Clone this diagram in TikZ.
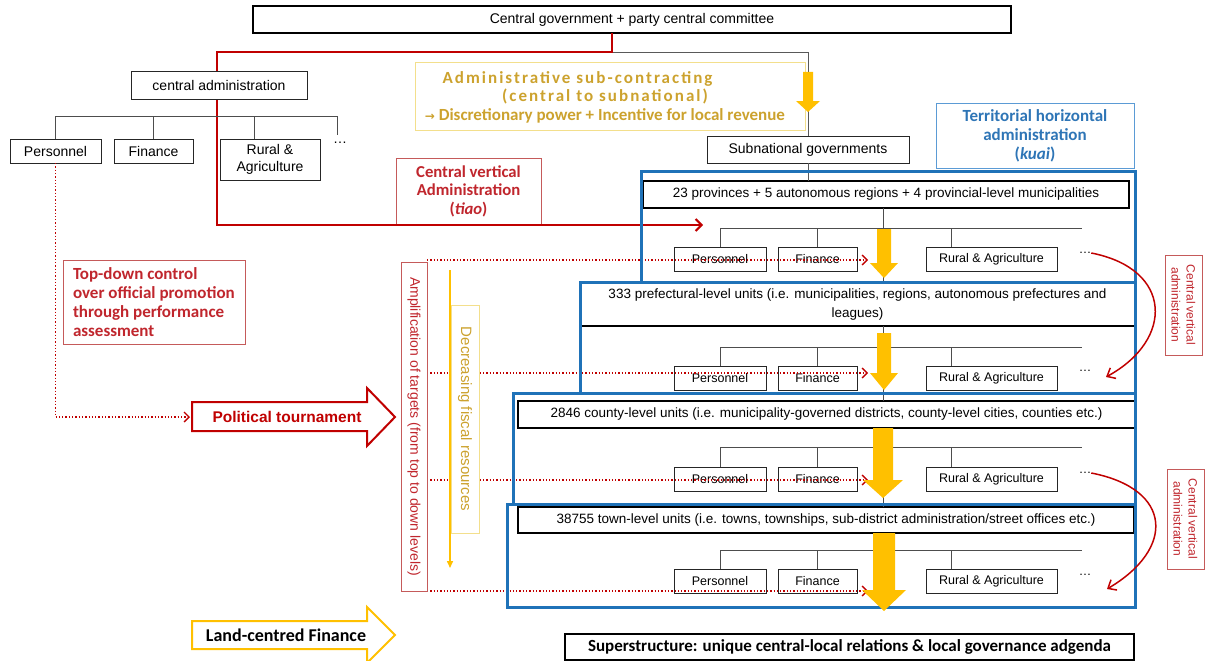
\documentclass[tikz,border=0pt]{standalone}
\usepackage{fontspec}
\setmainfont{Liberation Sans}
\newfontfamily\lblfont{Carlito}
\newfontfamily\symfont{DejaVu Sans}
\usetikzlibrary{arrows.meta,calc}

\definecolor{lred}{HTML}{C00000}
\definecolor{boxred}{HTML}{C55A5A}
\definecolor{txtred}{HTML}{C0262D}
\definecolor{gold}{HTML}{FFC000}
\definecolor{goldtxt}{HTML}{CCA22E}
\definecolor{paleyel}{HTML}{F3DF8C}
\definecolor{frameblue}{HTML}{1F72B8}
\definecolor{kuaiblue}{HTML}{5B9BD5}
\definecolor{kuaitxt}{HTML}{2E75B6}
\definecolor{treegray}{HTML}{4D4D4D}

\newcommand\fsz[2]{\fontsize{#1}{#2}\selectfont}
\newcommand\spaced[1]{{\addfontfeature{LetterSpace=12}#1}}
% filled downward block arrow: x, shaft top, head start, tip, shaft half width, head half width
\newcommand\fatarrow[6]{\fill[gold] ({#1-#5},#2) -- ({#1+#5},#2) -- ({#1+#5},#3) -- ({#1+#6},#3) -- (#1,#4) -- ({#1-#6},#3) -- ({#1-#5},#3) -- cycle;}

\begin{document}
\begin{tikzpicture}[x=1pt,y=-1pt,
  every node/.style={inner sep=0pt, outer sep=0pt},
  plain/.style={draw=black!85, line width=1pt, fill=white, font=\fsz{14}{16.5}},
  heavy/.style={draw=black, line width=2pt, fill=white, font=\fsz{13.5}{19}},
  unit/.style={draw=black!85, line width=0.9pt, fill=white, minimum height=24, font=\fsz{12.5}{14}},
  tree/.style={draw=treegray, line width=0.9pt},
  frame/.style={draw=frameblue, line width=3pt},
  redline/.style={draw=lred, line width=2pt, -{Straight Barb[length=6pt,width=12pt]}},
  reddots/.style={draw=lred, line width=1.3pt, dotted, -{Straight Barb[length=5pt,width=10pt]}},
  redcurve/.style={draw=lred, line width=1.5pt, -{Straight Barb[length=7pt,width=12pt]}},
  redbox/.style={draw=boxred, line width=0.9pt, fill=white, text=txtred},
]
\useasboundingbox (0,0) rectangle (1205,661);

% ---------- top: central level ----------
\node[heavy, minimum width=758, minimum height=27, font=\fsz{14}{16}] (gov) at (632,19.5) {Central government + party central committee};
\node[redbox, minimum width=145, minimum height=66, align=center, font=\lblfont\bfseries\fsz{16.7}{18.5}] (tiao) at (468.5,191) {Central vertical\\Administration\\(\textit{tiao})};
\node[plain, minimum width=202, minimum height=27] (sub) at (808,149.5) {Subnational governments};

\coordinate (rc) at (612,52);
\coordinate (lc) at (217,52);
\coordinate (lb) at (217,225);
\coordinate (redtip) at (703,225);
\coordinate (gc) at (808,52);
\draw[tree, draw=gray!70!black] (rc) -- (gc) -- (sub.north);
\draw[redline] (gov.south -| rc) -- (rc) -- (lc) -- (lb) -- (redtip);

% central administration tree
\coordinate (th) at (57,116);
\coordinate (te) at (337,116);
\node[plain, minimum width=176, minimum height=27] (cadm) at (219,85.5) {central administration};
\node[plain, minimum width=91, minimum height=24] (p0) at (55.5,151) {Personnel};
\node[plain, minimum width=79, minimum height=24] (f0) at (153.5,151) {Finance};
\node[plain, minimum width=100, minimum height=41, align=center, font=\fsz{14}{17}] (r0) at (270,159.5) {Rural \&\\Agriculture};
\node[font=\fsz{14}{16}] (d0) at (340,143) {…};
\draw[tree] (p0.north) |- (te) -- ++(0,19);
\draw[tree] (f0.north) -- (f0.north |- th);
\draw[tree] ($(r0.north west)+(34,0)$) -- ($(r0.north west)+(34,-23)$);

% administrative sub-contracting
\node[draw=paleyel, line width=1pt, minimum width=390, minimum height=67] (subc) at (610,96.5) {};
\node[align=center, text=goldtxt, font=\lblfont\bfseries\fsz{17}{18.5}] (subct) at (605,97)
  {\spaced{Administrative sub-contracting}\hspace*{55pt}\\\spaced{(central to subnational)}\hspace*{42pt}\\{\symfont\fsz{12}{12}→} Discretionary power + Incentive for local revenue};
\fatarrow{808}{72}{101}{112}{5}{12}

\node[draw=kuaiblue, line width=0.9pt, minimum width=198, minimum height=65, align=center, text=kuaitxt, font=\lblfont\bfseries\fsz{17}{19}] (kuai) at (1035,135.5) {Territorial horizontal\\administration\\(\textit{kuai})};

% ---------- subnational levels ----------
\node[heavy, minimum width=486, minimum height=27] (t1) at (886,194.5) {23 provinces + 5 autonomous regions + 4 provincial-level municipalities};
\node[heavy, minimum width=555, minimum height=43, align=center] (t2) at (857.5,304.5) {333 prefectural-level units (i.e. municipalities, regions, autonomous prefectures and\\leagues)};
\node[heavy, minimum width=617, minimum height=27] (t3) at (826.5,414.5) {2846 county-level units (i.e. municipality-governed districts, county-level cities, counties etc.)};
\node[heavy, minimum width=616, minimum height=26] (t4) at (826,520) {38755 town-level units (i.e. towns, townships, sub-district administration/street offices etc.)};

\coordinate (cv) at (883,0);
\coordinate (l4bot) at (883,607);
\draw[tree, draw=gray!70!black] (sub.south) -- (sub.south |- t1.north);
\draw[tree] (t1.south -| cv) -- (t2.north -| cv);
\draw[tree] (t2.south -| cv) -- (t3.north -| cv);
\draw[tree] (t3.south -| cv) -- (t4.north -| cv);
\draw[tree] (t4.south -| cv) -- (l4bot);

\foreach \i/\h/\b/\d in {1/228/259/253, 2/347/378/371, 3/447/479/473, 4/550/581/575} {
  \coordinate (hs\i) at (721,\h);
  \coordinate (he\i) at (1082,\h);
  \coordinate (rv\i) at (951,\h);
  \node[unit, minimum width=92] (per\i) at (720,\b) {Personnel};
  \node[unit, minimum width=79] (fin\i) at (817.5,\b) {Finance};
  \node[unit, minimum width=131] (rur\i) at (991.5,\b) {Rural \& Agriculture};
  \node[font=\fsz{12.5}{14}] (dot\i) at (1085,\d) {…};
  \draw[tree] (per\i.north) |- (he\i);
  \draw[tree] (fin\i.north) -- (fin\i.north |- hs\i);
  \draw[tree] (rv\i) -- (rv\i |- rur\i.north);
}

% targets handed down to each level
\foreach \i/\y in {1/260, 2/373, 3/480, 4/591} {
  \coordinate (ds\i) at (427,\y);
  \coordinate (de\i) at (868,\y);
  \draw[reddots] (ds\i) -- (de\i);
}

\node[redbox, fill=none, rotate=-90, minimum width=329, minimum height=26, font=\fsz{14}{16}] (amp) at (414,426.5) {Amplification of targets (from top to down levels)};
\node[draw=paleyel, line width=0.9pt, fill=white, rotate=-90, minimum width=228, minimum height=28, text=goldtxt, font=\fsz{15}{17}] (dec) at (465,419) {Decreasing fiscal resources};
\coordinate (gtop) at (450,270);
\coordinate (gbot) at (450,568);
\draw[draw=gold, line width=1.5pt, -{Triangle[length=7pt,width=6pt]}] (gtop) -- (gbot);

% territorial frames
\draw[frame] (641,171) rectangle (1135,282);
\draw[frame] (580,282) rectangle (1135,393);
\draw[frame] (513,393) rectangle (1135,504);
\draw[frame] (507,504) rectangle (1135,607);

% fiscal flow downwards
\fatarrow{884}{229}{263}{278}{7}{14}
\fatarrow{884}{333}{373}{390}{7}{14}
\fatarrow{883}{428}{480}{498}{10}{20}
\fatarrow{884}{533}{590}{611}{11}{22}

% central vertical administration reaching down
\coordinate (ct2) at (1106,377);
\coordinate (ct4) at (1107,589);
\draw[redcurve] (dot1.east) .. controls +(82,16) and +(68,-37) .. (ct2);
\draw[redcurve] (dot3.east) .. controls +(82,16) and +(68,-40) .. (ct4);
\node[redbox, rotate=-90, minimum width=100, minimum height=37, align=center, font=\fsz{12}{15}] (cva1) at (1183.5,305) {Central vertical\\administration};
\node[redbox, rotate=-90, minimum width=100, minimum height=37, align=center, font=\fsz{12}{15}] (cva2) at (1185.5,519) {Central vertical\\administration};

% ---------- left side ----------
\node[redbox, minimum width=182, minimum height=84] (tdc) at (154,302) {};
\node[anchor=west, align=left, text=txtred, font=\lblfont\bfseries\fsz{17}{19}] (tdct) at (73,302) {Top-down control\\over official promotion\\through performance\\assessment};

\draw[draw=lred, line width=2pt, fill=white] (192,402) -- (367,402) -- (367,388) -- (395,417) -- (367,446) -- (367,431) -- (192,431) -- cycle;
\node[text=lred, font=\bfseries\fsz{15.5}{17}] (pt) at (287,417) {Political tournament};
\coordinate (ptin) at (190,417);
\draw[reddots] (p0.south) |- (ptin);

\draw[draw=gold, line width=2pt, fill=white] (192,621) -- (367,621) -- (367,607) -- (395,635) -- (367,663) -- (367,649) -- (192,649) -- cycle;
\node[font=\lblfont\bfseries\fsz{18}{20}] (lcf) at (286,635) {Land-centred Finance};

\node[heavy, minimum width=569, minimum height=26, font=\lblfont\bfseries\fsz{17}{19}] (sup) at (849.5,647) {Superstructure: unique central-local relations \& local governance adgenda};
\end{tikzpicture}
\end{document}
